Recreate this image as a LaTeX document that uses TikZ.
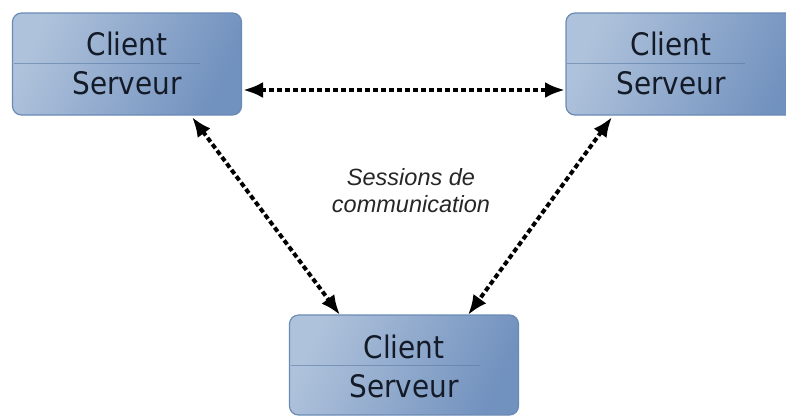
\documentclass[tikz,border=0pt]{standalone}
\usepackage{fontspec}
\setmainfont{Liberation Sans}
\newfontfamily\boxfont{DejaVu Sans Condensed}
\usetikzlibrary{arrows.meta}
\definecolor{boxlight}{HTML}{AFC2DB}
\definecolor{boxdark}{HTML}{7191BE}
\definecolor{boxedge}{HTML}{6A8BB6}
\definecolor{divline}{HTML}{5A7BA4}
\definecolor{boxtext}{HTML}{141B28}
\tikzset{
  csbox/.style={rectangle, rounded corners=9pt, draw=boxedge, line width=1.2pt,
    left color=boxlight, right color=boxdark, shading angle=65,
    minimum width=229pt, minimum height=102pt, inner sep=0pt},
  boxlabel/.style={font=\boxfont\fontsize{31}{39}\selectfont, text=boxtext, align=center},
  session/.style={line width=4pt, dash pattern=on 5pt off 3pt,
    >={Latex[length=20pt,width=16pt]}, <->},
}
\begin{document}
\begin{tikzpicture}[x=1pt,y=-1pt]
\useasboundingbox (0,0) rectangle (786,416);
\clip (0,0) rectangle (786,416);
\node[csbox] (b1) at (127,64) {};
\node[csbox, minimum width=240pt] (b2) at (686,64) {};
\node[csbox, minimum height=100pt] (b3) at (404,365) {};
\draw[divline, line width=1pt, opacity=0.6] (14,63) -- (200,63);
\draw[divline, line width=1pt, opacity=0.6] (567,63) -- (745,63);
\draw[divline, line width=1pt, opacity=0.6] (291,365) -- (480,365);
\node[boxlabel] (t1) at (127,63) {Client\\Serveur};
\node[boxlabel] (t2) at (671,63) {Client\\Serveur};
\node[boxlabel] (t3) at (404,366) {Client\\Serveur};
\coordinate (a1) at (243,90);
\coordinate (a2) at (565,90);
\coordinate (c1) at (192,117);
\coordinate (c2) at (340,315);
\coordinate (d1) at (612,117);
\coordinate (d2) at (468,315);
\draw[session] (a1) -- (a2);
\draw[session] (c1) -- (c2);
\draw[session] (d1) -- (d2);
\node[font=\itshape\fontsize{23.5}{27}\selectfont, text=black!85, align=center] (lbl) at (411,191) {Sessions de\\communication};
\end{tikzpicture}
\end{document}
